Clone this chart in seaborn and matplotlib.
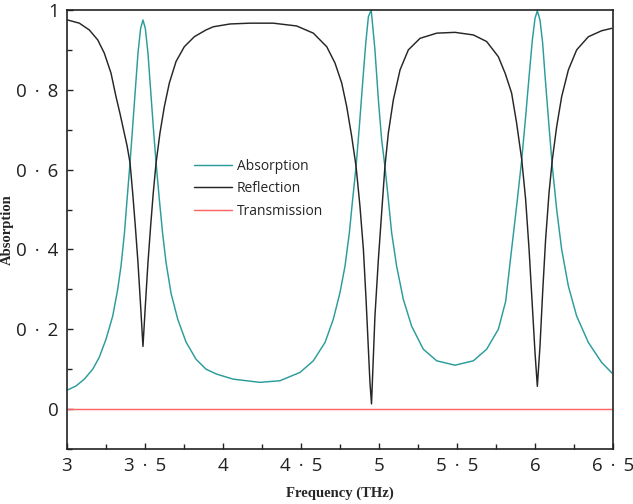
import pandas as pd
import matplotlib
matplotlib.use("Agg")
import matplotlib.pyplot as plt
import seaborn as sns
from matplotlib.ticker import MultipleLocator, FuncFormatter

# values
abs_freq = [3.004, 3.058, 3.111, 3.165, 3.207, 3.25, 3.293, 3.325, 3.346, 3.368, 3.385,
            3.404, 3.421, 3.438, 3.455, 3.472, 3.487, 3.502, 3.519, 3.536, 3.553, 3.571,
            3.592, 3.613, 3.635, 3.667, 3.71, 3.763, 3.827, 3.891, 3.96, 4.066, 4.237,
            4.365, 4.494, 4.579, 4.654, 4.707, 4.75, 4.782, 4.81, 4.831, 4.853, 4.874,
            4.895, 4.915, 4.932, 4.95, 4.974, 4.996, 5.017, 5.038, 5.06, 5.081, 5.113,
            5.156, 5.209, 5.284, 5.37, 5.487, 5.605, 5.69, 5.765, 5.812, 5.85, 5.882,
            5.915, 5.94, 5.962, 5.983, 6.0, 6.015, 6.032, 6.049, 6.068, 6.09, 6.111,
            6.139, 6.171, 6.214, 6.267, 6.342, 6.427, 6.494]
abs_vals = [0.048, 0.058, 0.075, 0.10, 0.13, 0.175, 0.233, 0.30, 0.358, 0.44, 0.525,
            0.617, 0.708, 0.80, 0.892, 0.954, 0.975, 0.954, 0.892, 0.80, 0.708, 0.617,
            0.525, 0.44, 0.367, 0.29, 0.225, 0.168, 0.125, 0.10, 0.0875, 0.075, 0.067,
            0.071, 0.092, 0.121, 0.167, 0.225, 0.292, 0.358, 0.442, 0.525, 0.608, 0.708,
            0.817, 0.917, 0.983, 1.0, 0.90, 0.775, 0.675, 0.608, 0.525, 0.442, 0.358,
            0.275, 0.208, 0.15, 0.121, 0.11, 0.121, 0.15, 0.20, 0.27, 0.40, 0.508,
            0.625, 0.733, 0.833, 0.925, 0.979, 0.998, 0.975, 0.917, 0.817, 0.708, 0.608,
            0.50, 0.40, 0.308, 0.233, 0.167, 0.117, 0.09]

ref_freq = [3.004, 3.079, 3.143, 3.197, 3.239, 3.282, 3.314, 3.34, 3.368, 3.385, 3.404,
            3.421, 3.438, 3.455, 3.472, 3.487, 3.502, 3.519, 3.536, 3.553, 3.571, 3.596,
            3.624, 3.656, 3.699, 3.752, 3.816, 3.891, 3.938, 4.045, 4.173, 4.322, 4.472,
            4.579, 4.665, 4.718, 4.761, 4.793, 4.825, 4.853, 4.878, 4.9, 4.917, 4.932,
            4.942, 4.952, 4.974, 4.996, 5.017, 5.038, 5.06, 5.092, 5.135, 5.188, 5.263,
            5.37, 5.487, 5.605, 5.69, 5.765, 5.81, 5.85, 5.882, 5.915, 5.94, 5.962,
            5.983, 6.0, 6.015, 6.032, 6.049, 6.068, 6.09, 6.111, 6.139, 6.171, 6.214,
            6.267, 6.342, 6.427, 6.491]
ref_vals = [0.975, 0.967, 0.95, 0.925, 0.892, 0.842, 0.783, 0.74, 0.69, 0.66, 0.617,
            0.542, 0.458, 0.367, 0.258, 0.157, 0.258, 0.367, 0.458, 0.542, 0.617, 0.692,
            0.758, 0.817, 0.871, 0.908, 0.933, 0.95, 0.958, 0.965, 0.967, 0.967, 0.96,
            0.942, 0.908, 0.867, 0.817, 0.758, 0.683, 0.608, 0.508, 0.40, 0.275, 0.15,
            0.067, 0.013, 0.233, 0.375, 0.492, 0.608, 0.692, 0.775, 0.85, 0.90, 0.929,
            0.942, 0.944, 0.9375, 0.921, 0.883, 0.84, 0.792, 0.717, 0.625, 0.525, 0.40,
            0.258, 0.142, 0.057, 0.158, 0.292, 0.425, 0.542, 0.625, 0.708, 0.783, 0.85,
            0.90, 0.933, 0.948, 0.954]

tra_freq = [3.0, 4.0, 5.0, 6.0, 6.5]
tra_vals = [0.0, 0.0, 0.0, 0.0, 0.0]

df = pd.concat([
    pd.DataFrame({'freq': abs_freq, 'value': abs_vals, 'kind': 'Absorption'}),
    pd.DataFrame({'freq': ref_freq, 'value': ref_vals, 'kind': 'Reflection'}),
    pd.DataFrame({'freq': tra_freq, 'value': tra_vals, 'kind': 'Transmission'}),
])

sns.set_theme(style="ticks")
plt.rcParams['font.family'] = ['Open Sans', 'DejaVu Sans']

fig = plt.figure(figsize=(6.33, 5.04), dpi=100)
ax = fig.add_axes([67 / 633, 1 - 449 / 504, 546 / 633, 439 / 504])

sns.lineplot(
    data=df, x='freq', y='value', hue='kind', estimator=None, sort=False,
    palette={'Absorption': '#2a9c9a', 'Reflection': '#262626', 'Transmission': '#ff6666'},
    linewidth=1.05, ax=ax,
)

ax.set_xlim(3, 6.5)
ax.set_ylim(-0.1, 1.0)
ax.xaxis.set_major_locator(MultipleLocator(0.5))
ax.xaxis.set_minor_locator(MultipleLocator(0.25))
ax.yaxis.set_major_locator(MultipleLocator(0.2))
ax.yaxis.set_minor_locator(MultipleLocator(0.1))
# tick labels use a widely spaced middle dot as decimal mark
fmt = FuncFormatter(lambda v, p: ('%g' % v).replace('.', ' \u2006·\u2006 '))
ax.xaxis.set_major_formatter(fmt)
ax.yaxis.set_major_formatter(fmt)

ax.tick_params(which='both', direction='in', width=1.0, labelsize=13.5, colors='#222222')
ax.tick_params(which='major', length=4.5, pad=6)
ax.tick_params(which='minor', length=3.5)
for s in ax.spines.values():
    s.set_linewidth(1.2)
    s.set_color('#222222')

label_font = dict(family=['Liberation Serif', 'DejaVu Serif'], weight='bold', size=10.5)
ax.set_xlabel('Frequency (THz)', labelpad=8, **label_font)
ax.set_ylabel('Absorption', labelpad=2, **label_font)

ax.legend(title=None, frameon=False, loc='upper left', bbox_to_anchor=(0.21, 0.69),
          fontsize=10, handlelength=2.7, handletextpad=0.36, labelspacing=0.55)

fig.savefig('out.png', dpi=100)
